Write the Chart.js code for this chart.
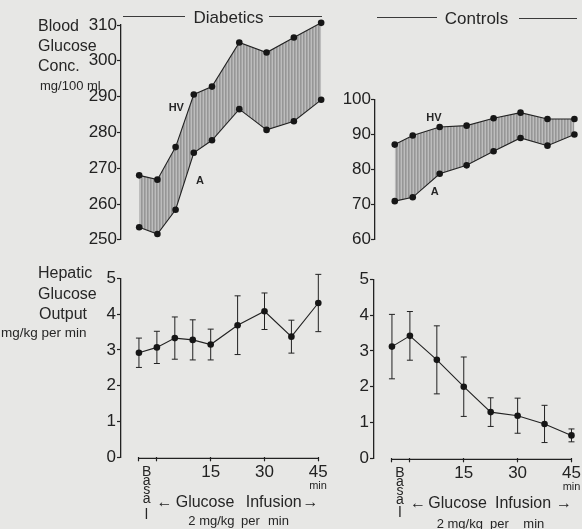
<!DOCTYPE html>
<html><head><meta charset="utf-8">
<script src="https://cdn.jsdelivr.net/npm/chart.js@4.4.1/dist/chart.umd.min.js"></script>
<style>
html,body{margin:0;padding:0;background:#e7e7e5;}
#wrap{position:relative;width:582px;height:529px;overflow:hidden;font-family:"Liberation Sans",Arial,sans-serif;color:#262626;}
canvas{position:absolute;}
.t{position:absolute;white-space:pre;line-height:1;}
.hl{position:absolute;height:1px;background:#3a3a3a;}
</style></head><body>
<div id="wrap">
<canvas id="c1" width="330" height="250" style="left:0;top:0"></canvas>
<canvas id="c2" width="252" height="250" style="left:330px;top:0"></canvas>
<canvas id="c3" width="330" height="279" style="left:0;top:250px"></canvas>
<canvas id="c4" width="252" height="279" style="left:330px;top:250px"></canvas>
</div>
<script>
// ---- data ----
const diabTimes = [-5, 0, 5, 10, 15, 22.5, 30, 37.5, 45];
const ctrlTimes = [-5, 0, 7.5, 15, 22.5, 30, 37.5, 45];
const diabHV = [268.0, 266.8, 275.9, 290.6, 292.8, 305.1, 302.3, 306.5, 310.6];
const diabA  = [253.5, 251.6, 258.4, 274.3, 277.8, 286.5, 280.7, 283.1, 289.1];
const ctrlHV = [87.1, 89.7, 92.1, 92.5, 94.6, 96.2, 94.4, 94.4];
const ctrlA  = [71.0, 72.1, 78.8, 81.2, 85.2, 89.0, 86.8, 90.0];
const diabOutput    = [2.92, 3.07, 3.33, 3.28, 3.15, 3.69, 4.08, 3.37, 4.31];
const diabOutputErr = [0.41, 0.45, 0.59, 0.56, 0.43, 0.82, 0.51, 0.46, 0.80];
const ctrlOutput    = [3.12, 3.42, 2.75, 2.00, 1.29, 1.19, 0.96, 0.64];
const ctrlOutputErr = [0.90, 0.68, 0.95, 0.83, 0.40, 0.49, 0.52, 0.18];
const xTickValues = [-5, 0, 15, 30, 45];
const xTickLabels = ['', '', '15', '30', '45'];

const FONT = '"Liberation Sans", Arial, sans-serif';
const INK = '#222222';

function hatch() {
  const c = document.createElement('canvas');
  c.width = 3; c.height = 4;
  const g = c.getContext('2d');
  g.fillStyle = '#969696'; g.fillRect(0, 0, 1, 4);
  g.fillStyle = '#a6a6a6'; g.fillRect(1, 0, 1, 4);
  g.fillStyle = '#bdbdbd'; g.fillRect(2, 0, 1, 4);
  return g.createPattern(c, 'repeat');
}

function yAxis(min, max, step, width, pad) {
  return {
    min, max,
    ticks: { stepSize: step, padding: pad, color: INK, font: { family: FONT, size: 17 } },
    grid: { drawOnChartArea: false, drawTicks: true, tickLength: 4, tickColor: INK, tickWidth: 1.2 },
    border: { display: true, color: INK, width: 1.3 },
    afterFit(s) { s.width = width; }
  };
}

function pts(times, vals) { return times.map((t, i) => ({ x: t, y: vals[i] })); }

const pointStyle = { pointRadius: 3.3, pointBackgroundColor: '#161616', pointBorderWidth: 0, tension: 0, clip: false };

function bandChart(id, times, hv, a, yMin, yMax, xMin, xMax, yWidth, padding) {
  new Chart(document.getElementById(id), {
    type: 'line',
    data: { datasets: [
      Object.assign({ label: 'A', data: pts(times, a), borderColor: INK, borderWidth: 1.1, fill: false }, pointStyle),
      Object.assign({ label: 'HV', data: pts(times, hv), borderColor: INK, borderWidth: 1.1, fill: { target: '-1' }, backgroundColor: hatch() }, pointStyle)
    ] },
    options: {
      responsive: false, animation: false, layout: { padding },
      plugins: { legend: { display: false }, tooltip: { enabled: false } },
      scales: {
        x: { type: 'linear', min: xMin, max: xMax, display: false },
        y: yAxis(yMin, yMax, 10, yWidth, 0)
      }
    }
  });
}

function errorPlugin(errs) {
  return {
    id: 'errorBars',
    beforeDatasetsDraw(chart) {
      const ctx = chart.ctx, meta = chart.getDatasetMeta(0), ds = chart.data.datasets[0];
      const ys = chart.scales.y;
      ctx.save();
      ctx.strokeStyle = INK; ctx.lineWidth = 1;
      meta.data.forEach((p, i) => {
        const v = ds.data[i].y, e = errs[i];
        const top = ys.getPixelForValue(v + e), bot = ys.getPixelForValue(v - e);
        ctx.beginPath();
        ctx.moveTo(p.x, top); ctx.lineTo(p.x, bot);
        ctx.moveTo(p.x - 3, top); ctx.lineTo(p.x + 3, top);
        ctx.moveTo(p.x - 3, bot); ctx.lineTo(p.x + 3, bot);
        ctx.stroke();
      });
      ctx.restore();
    }
  };
}

const axisLine = {
  id: 'axisLine',
  afterDraw(chart) {
    const x = chart.scales.x, ctx = chart.ctx;
    const y = chart.chartArea.bottom + 1;
    ctx.save();
    ctx.strokeStyle = INK; ctx.lineWidth = 1.2;
    ctx.beginPath();
    ctx.moveTo(x.getPixelForValue(xTickValues[0]), y);
    ctx.lineTo(x.getPixelForValue(xTickValues[xTickValues.length - 1]), y);
    ctx.stroke();
    ctx.restore();
  }
};

function outputChart(id, times, vals, errs, xMin, xMax, yWidth, xHeight, padding) {
  new Chart(document.getElementById(id), {
    type: 'line',
    data: { datasets: [
      Object.assign({ label: 'Output', data: pts(times, vals), borderColor: INK, borderWidth: 1.1, fill: false }, pointStyle)
    ] },
    options: {
      responsive: false, animation: false, layout: { padding },
      plugins: { legend: { display: false }, tooltip: { enabled: false } },
      scales: {
        x: {
          type: 'linear', min: xMin, max: xMax,
          afterBuildTicks(s) { s.ticks = xTickValues.map(v => ({ value: v })); },
          ticks: { callback: (v, i) => xTickLabels[i], padding: 1, maxRotation: 0, autoSkip: false, color: INK, font: { family: FONT, size: 17 } },
          grid: { drawOnChartArea: false, drawTicks: true, tickLength: 4, tickColor: INK, tickWidth: 1.2 },
          border: { display: false },
          afterFit(s) { s.height = xHeight; }
        },
        y: yAxis(0, 5, 1, yWidth, 1)
      }
    },
    plugins: [errorPlugin(errs), axisLine]
  });
}

bandChart('c1', diabTimes, diabHV, diabA, 250, 310, -10, 46, 121, { left: 0, top: 25, right: 5.2, bottom: 9 });
bandChart('c2', ctrlTimes, ctrlHV, ctrlA, 60, 100, -10.5, 46, 45, { left: 0, top: 99.3, right: 3.4, bottom: 9 });
outputChart('c3', diabTimes, diabOutput, diabOutputErr, -10, 46, 121, 71.7, { left: 0, top: 28.3, right: 8.1, bottom: 0 });
outputChart('c4', ctrlTimes, ctrlOutput, ctrlOutputErr, -10, 46, 44, 70.7, { left: 0, top: 29.3, right: 4.2, bottom: 0 });

// ---- text and decorations ----
const wrap = document.getElementById('wrap');
function T(text, x, y, size, align, weight) {
  const d = document.createElement('div');
  d.className = 't';
  d.textContent = text;
  d.style.left = x + 'px'; d.style.top = y + 'px';
  d.style.fontSize = size + 'px';
  if (weight) d.style.fontWeight = weight;
  const tx = align === 'left' ? '0' : align === 'right' ? '-100%' : '-50%';
  d.style.transform = 'translate(' + tx + ',-50%)';
  wrap.appendChild(d);
}
function L(x1, x2, y) {
  const d = document.createElement('div');
  d.className = 'hl';
  d.style.left = x1 + 'px'; d.style.top = y + 'px'; d.style.width = (x2 - x1) + 'px';
  wrap.appendChild(d);
}
// headers
L(123, 185, 16); L(269, 322, 16); T('Diabetics', 228.5, 17, 17, 'center');
L(377, 437, 17); L(519, 577, 18); T('Controls', 476.5, 18, 17, 'center');
// y titles
T('Blood', 38, 26, 16, 'left'); T('Glucose', 38, 46, 16, 'left'); T('Conc.', 38, 65.5, 16, 'left');
T('mg/100 ml', 40, 85, 13, 'left');
T('Hepatic', 38, 273, 16, 'left'); T('Glucose', 38, 294, 16, 'left'); T('Output', 39, 313.5, 16, 'left');
T('mg/kg per min', 1, 333, 13.5, 'left');
// series labels
T('HV', 176.3, 107, 11, 'center', 'bold'); T('A', 200, 179.5, 11, 'center', 'bold');
T('HV', 434, 116.7, 11, 'center', 'bold'); T('A', 434.7, 191, 11, 'center', 'bold');
// x annotations, diabetics
T('B', 146.7, 471, 14, 'center'); T('a', 146.7, 480, 14, 'center'); T('s', 146.7, 488.5, 14, 'center');
T('a', 146.7, 497.5, 14, 'center'); T('l', 146.5, 512.5, 15, 'center');
T('\u2190', 164.5, 502, 16, 'center'); T('Glucose', 175.7, 501.7, 16, 'left'); T('Infusion', 245.7, 501.7, 16, 'left');
T('\u2192', 310.5, 502, 16, 'center');
T('2 mg/kg', 188.3, 520, 13, 'left'); T('per', 241, 520, 13, 'left'); T('min', 268, 520, 13, 'left');
T('min', 318, 485, 11, 'center');
// x annotations, controls
T('B', 400, 471.5, 14, 'center'); T('a', 400, 481, 14, 'center'); T('s', 400, 489.5, 14, 'center');
T('a', 400, 498.5, 14, 'center'); T('l', 400, 511, 15, 'center');
T('\u2190', 418, 503.3, 16, 'center'); T('Glucose', 428.3, 503, 16, 'left'); T('Infusion', 495, 503, 16, 'left');
T('\u2192', 564, 503.3, 16, 'center');
T('2 mg/kg', 436.7, 523, 13, 'left'); T('per', 490, 523, 13, 'left'); T('min', 523.3, 523, 13, 'left');
T('min', 571.5, 486, 11, 'center');
</script>
</body></html>
